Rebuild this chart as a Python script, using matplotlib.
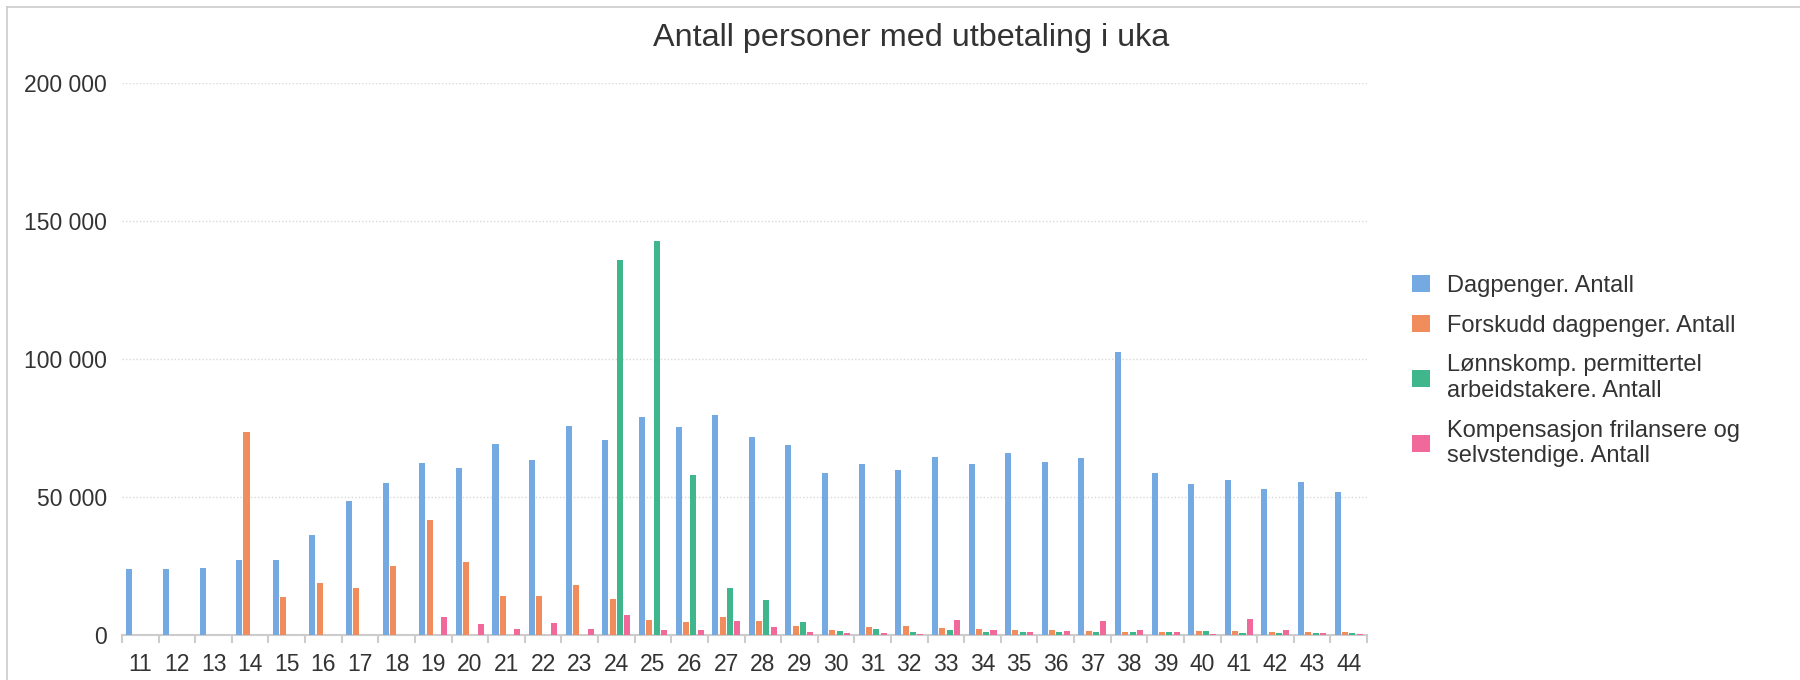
import matplotlib
matplotlib.use("Agg")
import matplotlib.pyplot as plt
from matplotlib.lines import Line2D
from matplotlib.ticker import FuncFormatter
import numpy as np

plt.rcParams['font.family'] = ['Liberation Sans', 'DejaVu Sans']

weeks = list(range(11, 45))

dagpenger = [23800, 23800, 24400, 27100, 27000, 36300, 48700, 55100, 62500, 60600,
             69200, 63400, 75800, 70800, 79100, 75200, 79800, 71700, 68700, 58700,
             62000, 59800, 64400, 61800, 66000, 62700, 64300, 102500, 58800, 54600,
             56200, 53000, 55500, 51900]
forskudd = [0, 0, 0, 73400, 13700, 19000, 17200, 24900, 41500, 26500,
            14000, 14200, 18000, 12900, 5400, 4700, 6400, 4900, 3100, 1900,
            2900, 3100, 2400, 2200, 1700, 1900, 1400, 1200, 1200, 1400,
            1400, 1200, 1000, 1200]
lonnskomp = [0, 0, 0, 0, 0, 0, 0, 0, 0, 0,
             0, 0, 0, 135900, 142900, 58100, 17200, 12600, 4700, 1400,
             2200, 1200, 1900, 1000, 1200, 1200, 1200, 1000, 1000, 1400,
             800, 700, 700, 700]
kompensasjon = [0, 0, 0, 0, 0, 0, 0, 0, 6400, 4000,
                2200, 4400, 2200, 7200, 1700, 1700, 4900, 2900, 1200, 700,
                700, 400, 5400, 1900, 1000, 1400, 5200, 1700, 1000, 300,
                5700, 1700, 800, 400]

series_names = ["Dagpenger. Antall",
                "Forskudd dagpenger. Antall",
                "Lønnskomp. permittertel\narbeidstakere. Antall",
                "Kompensasjon frilansere og\nselvstendige. Antall"]
colors = ["#74a9e1", "#f18d5c", "#3fb68b", "#f0699a"]

y_ticks = [0, 50000, 100000, 150000, 200000]

text_col = "#333333"

fig = plt.figure(figsize=(18, 6.8), dpi=100)
ax = fig.add_axes([122 / 1800, 1 - 635 / 680, (1367 - 122) / 1800, (635 - 83) / 680])

x = np.arange(len(weeks))
all_series = [dagpenger, forskudd, lonnskomp, kompensasjon]
offsets = [-0.3, -0.1, 0.1, 0.3]
for vals, off, col, name in zip(all_series, offsets, colors, series_names):
    ax.bar(x + off, vals, width=0.165, color=col, label=name, zorder=3, linewidth=0)

ax.set_xlim(-0.5, len(weeks) - 0.5)
ax.set_ylim(0, 200000)

# y axis
ax.set_yticks(y_ticks)
ax.yaxis.set_major_formatter(FuncFormatter(lambda v, p: f"{int(v):,}".replace(",", " ")))
ax.tick_params(axis='y', length=0, pad=11, labelsize=16.5, labelcolor=text_col)
ax.grid(axis='y', color='#d9d9d9', linestyle=(0, (1, 1.5)), linewidth=1, zorder=0)

# x axis
ax.set_xticks(x)
ax.set_xticklabels([str(w) for w in weeks])
ax.set_xticks(np.arange(-0.5, len(weeks)), minor=True)
ax.tick_params(axis='x', which='major', length=0, pad=13, labelsize=16.5, labelcolor=text_col)
ax.tick_params(axis='x', which='minor', length=6, width=1.5, color='#cccccc')

for s in ['top', 'right', 'left']:
    ax.spines[s].set_visible(False)
ax.spines['bottom'].set_color('#cccccc')
ax.spines['bottom'].set_linewidth(1.5)

fig.text(911 / 1800, 1 - 46 / 680, "Antall personer med utbetaling i uka",
         ha='center', va='baseline', fontsize=23.3, color=text_col)

leg = fig.legend(loc='center left', bbox_to_anchor=(1412 / 1800, 1 - 371 / 680),
                 frameon=False, fontsize=17, handlelength=0.75, handleheight=0.75,
                 handletextpad=0.75, labelspacing=0.75, borderpad=0, borderaxespad=0)
for t in leg.get_texts():
    t.set_color(text_col)

# thin frame lines at top and left
fig.add_artist(Line2D([7 / 1800, 1], [1 - 7 / 680, 1 - 7 / 680], color='#cccccc', linewidth=1.2))
fig.add_artist(Line2D([7 / 1800, 7 / 1800], [0, 1 - 7 / 680], color='#cccccc', linewidth=1.2))

fig.savefig("out.png", dpi=100, facecolor='white')
